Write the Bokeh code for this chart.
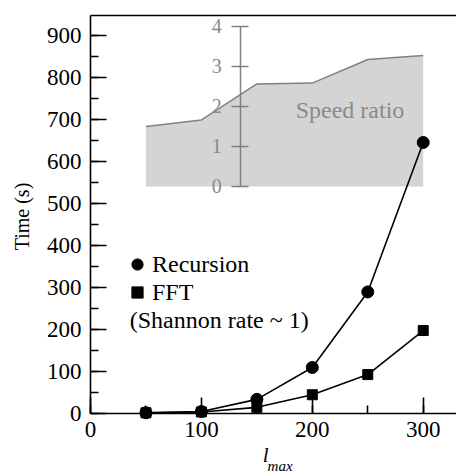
import math
from bokeh.plotting import figure
from bokeh.models import (Range1d, LinearAxis, FixedTicker, SingleIntervalTicker,
                          Legend, LegendItem, Label)
from bokeh.embed import file_html
from bokeh.resources import INLINE

# ---- data ----
lmax = [50, 100, 150, 200, 250, 300]
recursion = [1, 4, 33, 109, 289, 645]
fft = [1, 3, 14, 44, 92, 197]
speed_ratio = [1.50, 1.66, 2.56, 2.58, 3.17, 3.27]
ratio_ticks = [0, 1, 2, 3, 4]
series_names = ["Recursion", "FFT"]
note_text = "(Shannon rate ~ 1)"
inset_text = "Speed ratio"
y_title = "Time (s)"

FONT = "Liberation Serif"
GRAY = "#808080"
X_END = 330.0
Y_TOP = 947.6

p = figure(width=456, height=476, output_backend="svg", toolbar_location=None,
           x_range=Range1d(-81.15, X_END), y_range=Range1d(-150.8, 983.3),
           min_border=0)
p.outline_line_color = None
p.grid.visible = False
p.extra_y_ranges = {"ratio": Range1d(-7.236, 4.641)}

# main axes (drawn at the data origin)
p.xaxis.fixed_location = 0
p.xaxis.bounds = (0, X_END)
p.yaxis.fixed_location = 0
p.yaxis.bounds = (0, Y_TOP)
for ax in (p.xaxis[0], p.yaxis[0]):
    ax.ticker = SingleIntervalTicker(interval=100, num_minor_ticks=2)
    ax.major_tick_in = 16
    ax.major_tick_out = 0
    ax.minor_tick_in = 8
    ax.minor_tick_out = 0
    ax.axis_line_width = 1.6
    ax.major_tick_line_width = 1.6
    ax.minor_tick_line_width = 1.6
    ax.axis_line_color = "black"
    ax.major_tick_line_color = "black"
    ax.minor_tick_line_color = "black"
    ax.major_label_text_font = FONT
    ax.major_label_text_font_size = "23px"
    ax.major_label_text_color = "black"
    ax.major_label_standoff = 9

# top frame line
top = LinearAxis(fixed_location=Y_TOP, bounds=(0, X_END),
                 ticker=FixedTicker(ticks=[]), axis_line_width=1.6,
                 axis_line_color="black", major_tick_line_color=None,
                 minor_tick_line_color=None)
p.add_layout(top, "above")

# y axis title
p.add_layout(Label(x=-61.4, y=468.7, text=y_title, angle=math.pi / 2,
                   text_font=FONT, text_font_size="20px", text_color="black",
                   text_align="center", text_baseline="middle"))

# inset: speed ratio area
p.varea(x=lmax, y1=0, y2=speed_ratio, y_range_name="ratio",
        fill_color="#d4d4d4", fill_alpha=1.0)
p.line(lmax, speed_ratio, y_range_name="ratio", line_color=GRAY, line_width=1.5)

rax = LinearAxis(y_range_name="ratio", fixed_location=135.4, bounds=(0, 4),
                 ticker=FixedTicker(ticks=ratio_ticks),
                 axis_line_color=GRAY, axis_line_width=1.5,
                 major_tick_line_color=GRAY, major_tick_line_width=1.5,
                 major_tick_in=8, major_tick_out=9,
                 minor_tick_line_color=None,
                 major_label_text_font=FONT, major_label_text_font_size="20px",
                 major_label_text_color="#8a8a8a", major_label_standoff=10)
p.add_layout(rax, "left")

p.add_layout(Label(x=185, y=1.9, y_range_name="ratio", text=inset_text,
                   text_font=FONT, text_font_size="24px", text_color="#8a8a8a",
                   text_baseline="middle"))

# data series
p.line(lmax, recursion, line_color="black", line_width=1.6)
p.line(lmax, fft, line_color="black", line_width=1.6)
r_rec = p.scatter(lmax, recursion, marker="circle", size=12, color="black")
r_fft = p.scatter(lmax, fft, marker="square", size=10, color="black")

legend = Legend(items=[LegendItem(label=series_names[0], renderers=[r_rec]),
                       LegendItem(label=series_names[1], renderers=[r_fft])],
                location=(122, 170), glyph_width=30, glyph_height=28,
                label_height=28, label_standoff=0, spacing=0, padding=0,
                margin=0, border_line_color=None, background_fill_alpha=0,
                label_text_font=FONT, label_text_font_size="24px",
                label_text_color="black")
p.add_layout(legend)

p.add_layout(Label(x=35.4, y=221, text=note_text, text_font=FONT,
                   text_font_size="24px", text_color="black",
                   text_baseline="middle"))

# x axis title: l with subscript max
p.add_layout(Label(x=155.2, y=-100.7, text="l", text_font=FONT,
                   text_font_size="21px", text_font_style="italic",
                   text_color="black", text_baseline="alphabetic"))
p.add_layout(Label(x=159.7, y=-124.6, text="max", text_font=FONT,
                   text_font_size="15px", text_font_style="italic",
                   text_color="black", text_baseline="alphabetic"))

open("out.html", "w").write(file_html(p, INLINE))
